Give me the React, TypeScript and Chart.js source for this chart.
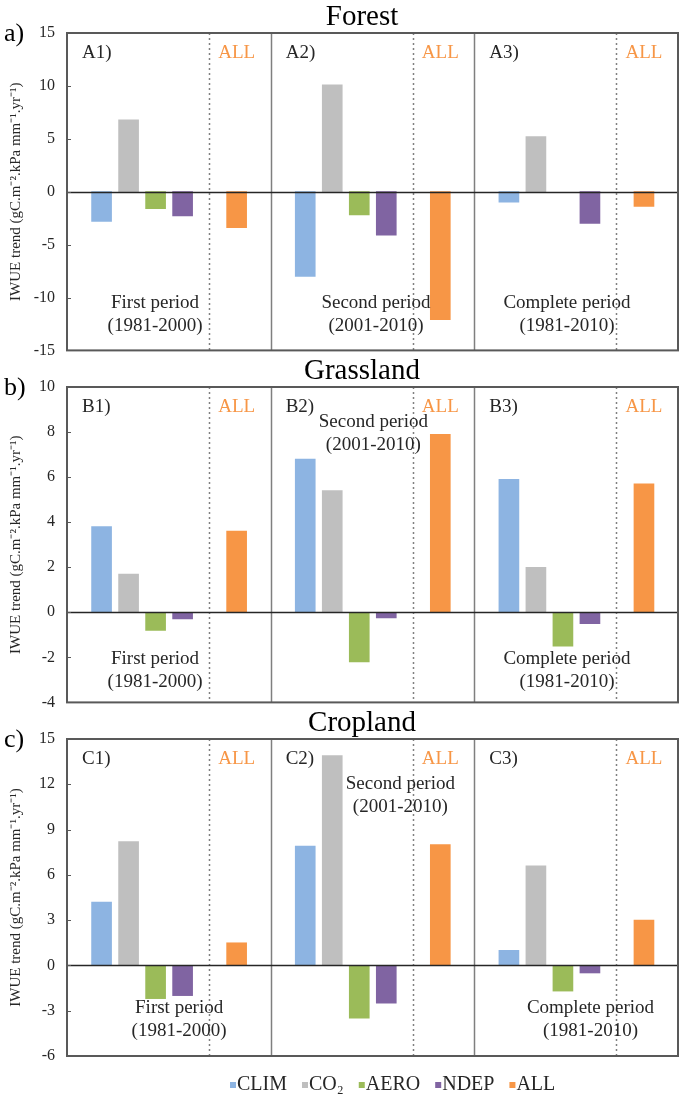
import React, { useEffect, useRef } from 'react';
import { Chart, registerables } from 'chart.js';

Chart.register(...registerables);

// ---------- data ----------
const SERIES = ['CLIM', 'CO₂', 'AERO', 'NDEP', 'ALL'];
const PERIOD_NAMES = ['First period', 'Second period', 'Complete period'];
const PERIOD_YEARS = ['(1981-2000)', '(2001-2010)', '(1981-2010)'];

const FOREST_CLIM = [-2.8, -8.0, -1.0];
const FOREST_CO2 = [6.8, 10.1, 5.2];
const FOREST_AERO = [-1.6, -2.2, null];
const FOREST_NDEP = [-2.3, -4.1, -3.0];
const FOREST_ALL = [-3.4, -12.1, -1.4];

const GRASS_CLIM = [3.8, 6.8, 5.9];
const GRASS_CO2 = [1.7, 5.4, 2.0];
const GRASS_AERO = [-0.8, -2.2, -1.5];
const GRASS_NDEP = [-0.3, -0.25, -0.5];
const GRASS_ALL = [3.6, 7.9, 5.7];

const CROP_CLIM = [4.2, 7.9, 1.0];
const CROP_CO2 = [8.2, 13.9, 6.6];
const CROP_AERO = [-2.2, -3.5, -1.7];
const CROP_NDEP = [-2.0, -2.5, -0.5];
const CROP_ALL = [1.5, 8.0, 3.0];

const FOREST_AXIS = { min: -15, max: 15, step: 5 };
const GRASS_AXIS = { min: -4, max: 10, step: 2 };
const CROP_AXIS = { min: -6, max: 15, step: 3 };

const Y_TITLE = 'IWUE trend (gC.m⁻².kPa mm⁻¹.yr⁻¹)';

// ---------- styles / layout ----------
const COLORS = ['#8DB4E2', '#BFBFBF', '#9BBB59', '#8064A2', '#F79646'];
const SERIF = '"Liberation Serif", "Times New Roman", serif';
const PERIOD_SPAN = 7.54;
const BAR_SLOTS = [1.28, 2.28, 3.28, 4.28, 6.28];
const DIVIDER_SLOT = 5.26;
const W = 685;

const PANELS = [
  {
    title: 'Forest', letter: 'a)', prefix: 'A', top: 0, height: 372, padTop: 33, padBottom: 8,
    values: [FOREST_CLIM, FOREST_CO2, FOREST_AERO, FOREST_NDEP, FOREST_ALL], axis: FOREST_AXIS,
    notes: [{ slot: 3.26, dy: 270 }, { slot: 3.9, dy: 270 }, { slot: 3.43, dy: 270 }], legend: false,
  },
  {
    title: 'Grassland', letter: 'b)', prefix: 'B', top: 358, height: 366, padTop: 29, padBottom: 8,
    values: [GRASS_CLIM, GRASS_CO2, GRASS_AERO, GRASS_NDEP, GRASS_ALL], axis: GRASS_AXIS,
    notes: [{ slot: 3.26, dy: 272 }, { slot: 3.8, dy: 35 }, { slot: 3.43, dy: 272 }], legend: false,
  },
  {
    title: 'Cropland', letter: 'c)', prefix: 'C', top: 710, height: 392, padTop: 29, padBottom: 46,
    values: [CROP_CLIM, CROP_CO2, CROP_AERO, CROP_NDEP, CROP_ALL], axis: CROP_AXIS,
    notes: [{ slot: 4.15, dy: 269 }, { slot: 4.8, dy: 45 }, { slot: 4.3, dy: 269 }], legend: true,
  },
];

function makeOverlay(cfg: any) {
  return {
    id: 'overlay',
    afterDatasetsDraw(chart: any) {
      const { ctx, chartArea: a, scales } = chart;
      const xs = scales.x;
      const ys = scales.y;
      ctx.save();
      // solid period dividers
      ctx.strokeStyle = '#7F7F7F';
      ctx.lineWidth = 1.5;
      for (let p = 1; p < 3; p++) {
        const px = Math.round(xs.getPixelForValue(p * PERIOD_SPAN)) + 0.5;
        ctx.beginPath();
        ctx.moveTo(px, a.top);
        ctx.lineTo(px, a.bottom);
        ctx.stroke();
      }
      // dotted dividers
      ctx.setLineDash([2, 3]);
      ctx.lineWidth = 1.5;
      ctx.strokeStyle = '#808080';
      for (let p = 0; p < 3; p++) {
        const px = Math.round(xs.getPixelForValue(p * PERIOD_SPAN + DIVIDER_SLOT)) + 0.5;
        ctx.beginPath();
        ctx.moveTo(px, a.top);
        ctx.lineTo(px, a.bottom);
        ctx.stroke();
      }
      ctx.setLineDash([]);
      // zero line
      const zy = Math.round(ys.getPixelForValue(0)) + 0.5;
      ctx.strokeStyle = '#262626';
      ctx.lineWidth = 1.5;
      ctx.beginPath();
      ctx.moveTo(a.left, zy);
      ctx.lineTo(a.right, zy);
      ctx.stroke();
      // tick marks
      ctx.strokeStyle = '#595959';
      ctx.lineWidth = 1;
      ys.ticks.forEach((t: any) => {
        const ty = Math.round(ys.getPixelForValue(t.value)) + 0.5;
        ctx.beginPath();
        ctx.moveTo(a.left, ty);
        ctx.lineTo(a.left + 4, ty);
        ctx.stroke();
      });
      // frame
      ctx.strokeStyle = '#595959';
      ctx.lineWidth = 2;
      ctx.strokeRect(a.left, a.top, a.right - a.left, a.bottom - a.top);

      // annotation texts
      ctx.font = `19px ${SERIF}`;
      ctx.textBaseline = 'middle';
      for (let p = 0; p < 3; p++) {
        const start = xs.getPixelForValue(p * PERIOD_SPAN);
        ctx.fillStyle = '#262626';
        ctx.textAlign = 'left';
        ctx.fillText(`${cfg.prefix}${p + 1})`, start + 15, a.top + 20);
        ctx.fillStyle = '#F79646';
        ctx.textAlign = 'center';
        ctx.fillText('ALL', xs.getPixelForValue(p * PERIOD_SPAN + BAR_SLOTS[4]), a.top + 20);
        const n = cfg.notes[p];
        const nx = xs.getPixelForValue(p * PERIOD_SPAN + n.slot);
        ctx.fillStyle = '#262626';
        ctx.fillText(PERIOD_NAMES[p], nx, a.top + n.dy);
        ctx.fillText(PERIOD_YEARS[p], nx, a.top + n.dy + 23);
      }
      ctx.restore();
    },
    afterDraw(chart: any) {
      const { ctx, chartArea: a } = chart;
      ctx.save();
      ctx.fillStyle = '#000';
      ctx.textBaseline = 'alphabetic';
      ctx.textAlign = 'center';
      ctx.font = `29px ${SERIF}`;
      ctx.fillText(cfg.title, 362, a.top - 8);
      ctx.textAlign = 'left';
      ctx.textBaseline = 'middle';
      ctx.font = `26px ${SERIF}`;
      ctx.fillText(cfg.letter, 4, a.top + 1);
      if (cfg.legend) {
        ctx.font = `20px ${SERIF}`;
        let lx = 230;
        const ly = a.bottom + 29;
        SERIES.forEach((s, i) => {
          ctx.fillStyle = COLORS[i];
          ctx.fillRect(lx, ly - 3, 6, 6);
          ctx.fillStyle = '#262626';
          ctx.fillText(s, lx + 7, ly);
          lx += 7 + ctx.measureText(s).width + 15;
        });
      }
      ctx.restore();
    },
  };
}

function Panel({ cfg }: { cfg: any }) {
  const ref = useRef<HTMLCanvasElement>(null);
  useEffect(() => {
    if (!ref.current) return;
    const datasets = SERIES.map((name, k) => ({
      label: name,
      data: cfg.values[k].map((v: number | null, p: number) => ({ x: p * PERIOD_SPAN + BAR_SLOTS[k], y: v })),
      backgroundColor: COLORS[k],
      borderWidth: 0,
      barThickness: 20,
      grouped: false,
    }));
    const chart = new Chart(ref.current, {
      type: 'bar',
      data: { datasets },
      options: {
        animation: false,
        responsive: false,
        events: [],
        layout: { padding: { top: cfg.padTop, bottom: cfg.padBottom, left: 0, right: 7 } },
        plugins: { legend: { display: false }, tooltip: { enabled: false }, title: { display: false } },
        scales: {
          x: {
            type: 'linear',
            min: 0,
            max: 3 * PERIOD_SPAN,
            offset: false,
            display: false,
            grid: { display: false },
          },
          y: {
            min: cfg.axis.min,
            max: cfg.axis.max,
            afterFit: (scale: any) => {
              scale.width = 67;
            },
            grid: { display: false, drawTicks: false },
            border: { display: false },
            ticks: {
              stepSize: cfg.axis.step,
              padding: 12,
              color: '#262626',
              font: { family: SERIF, size: 16 },
            },
            title: {
              display: true,
              text: Y_TITLE,
              color: '#262626',
              font: { family: SERIF, size: 15 },
              padding: { top: 7, bottom: 0 },
            },
          },
        },
      },
      plugins: [makeOverlay(cfg)],
    } as any);
    return () => chart.destroy();
  }, []);
  return (
    <canvas
      ref={ref}
      width={W}
      height={cfg.height}
      style={{ position: 'absolute', left: 0, top: cfg.top, display: 'block' }}
    />
  );
}

export default function App() {
  return (
    <div style={{ position: 'absolute', left: 0, top: 0, width: W, height: 1102, background: '#fff' }}>
      {PANELS.map((cfg) => (
        <Panel key={cfg.title} cfg={cfg} />
      ))}
    </div>
  );
}
